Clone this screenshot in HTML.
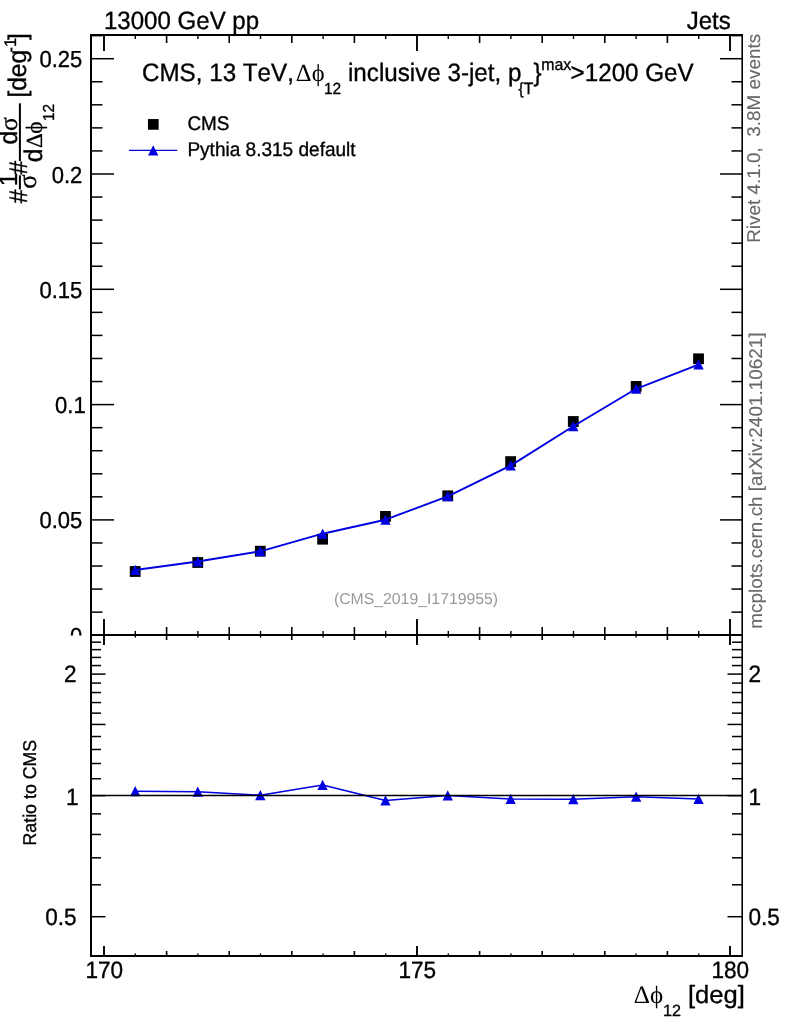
<!DOCTYPE html>
<html lang="en"><head><meta charset="utf-8"><title>CMS 13 TeV Δϕ12 inclusive 3-jet</title>
<style>html,body{margin:0;padding:0;background:#fff}body{width:786px;height:1024px;overflow:hidden}svg text{white-space:pre;font-kerning:none;font-variant-ligatures:none;text-rendering:geometricPrecision}</style></head>
<body>
<svg width="786" height="1024" viewBox="0 0 786 1024" style="display:block">
<rect x="0" y="0" width="786" height="1024" fill="#fff"/>
<g id="upper-data">
<rect x="129.80" y="566.10" width="10.80" height="10.80" fill="#000"/>
<rect x="192.37" y="557.10" width="10.80" height="10.80" fill="#000"/>
<rect x="254.89" y="545.80" width="10.80" height="10.80" fill="#000"/>
<rect x="317.21" y="533.80" width="10.80" height="10.80" fill="#000"/>
<rect x="380.08" y="511.00" width="10.80" height="10.80" fill="#000"/>
<rect x="442.35" y="490.40" width="10.80" height="10.80" fill="#000"/>
<rect x="505.22" y="456.20" width="10.80" height="10.80" fill="#000"/>
<rect x="567.89" y="416.10" width="10.80" height="10.80" fill="#000"/>
<rect x="630.76" y="381.00" width="10.80" height="10.80" fill="#000"/>
<rect x="693.13" y="353.40" width="10.80" height="10.80" fill="#000"/>
<polyline fill="none" stroke="#0000e0" stroke-width="1.9" stroke-linejoin="round" points="135.20,570.00 197.77,561.50 260.29,551.30 322.61,533.70 385.48,519.70 447.75,496.30 510.62,465.60 573.29,426.30 636.16,388.80 698.53,364.60"/>
<polygon points="130.05,575.00 140.35,575.00 135.20,564.70" fill="#0000e0"/>
<polygon points="192.62,566.50 202.92,566.50 197.77,556.20" fill="#0000e0"/>
<polygon points="255.14,556.30 265.44,556.30 260.29,546.00" fill="#0000e0"/>
<polygon points="317.46,538.70 327.76,538.70 322.61,528.40" fill="#0000e0"/>
<polygon points="380.33,524.70 390.63,524.70 385.48,514.40" fill="#0000e0"/>
<polygon points="442.60,501.30 452.90,501.30 447.75,491.00" fill="#0000e0"/>
<polygon points="505.47,470.60 515.77,470.60 510.62,460.30" fill="#0000e0"/>
<polygon points="568.14,431.30 578.44,431.30 573.29,421.00" fill="#0000e0"/>
<polygon points="631.01,393.80 641.31,393.80 636.16,383.50" fill="#0000e0"/>
<polygon points="693.38,369.60 703.68,369.60 698.53,359.30" fill="#0000e0"/>
</g>
<g id="lower-data">
<polyline fill="none" stroke="#0000e0" stroke-width="1.5" stroke-linejoin="round" points="135.20,791.20 197.77,791.70 260.29,795.20 322.61,785.10 385.48,800.50 447.75,795.50 510.62,799.00 573.29,799.30 636.16,796.80 698.53,799.10"/>
<polygon points="130.05,796.20 140.35,796.20 135.20,785.90" fill="#0000e0"/>
<polygon points="192.62,796.70 202.92,796.70 197.77,786.40" fill="#0000e0"/>
<polygon points="255.14,800.20 265.44,800.20 260.29,789.90" fill="#0000e0"/>
<polygon points="317.46,790.10 327.76,790.10 322.61,779.80" fill="#0000e0"/>
<polygon points="380.33,805.50 390.63,805.50 385.48,795.20" fill="#0000e0"/>
<polygon points="442.60,800.50 452.90,800.50 447.75,790.20" fill="#0000e0"/>
<polygon points="505.47,804.00 515.77,804.00 510.62,793.70" fill="#0000e0"/>
<polygon points="568.14,804.30 578.44,804.30 573.29,794.00" fill="#0000e0"/>
<polygon points="631.01,801.80 641.31,801.80 636.16,791.50" fill="#0000e0"/>
<polygon points="693.38,804.10 703.68,804.10 698.53,793.80" fill="#0000e0"/>
<line x1="91.0" y1="795.5" x2="742.0" y2="795.5" stroke="#000" stroke-width="1.3"/>
</g>
<g id="ticks" stroke="#000" fill="none">
<line x1="104.00" y1="35.00" x2="104.00" y2="51.00" stroke-width="1.9"/>
<line x1="104.00" y1="619.00" x2="104.00" y2="645.00" stroke-width="1.9"/>
<line x1="104.00" y1="946.00" x2="104.00" y2="956.00" stroke-width="1.9"/>
<line x1="135.30" y1="35.00" x2="135.30" y2="39.00" stroke-width="1.4"/>
<line x1="135.30" y1="631.00" x2="135.30" y2="637.50" stroke-width="1.4"/>
<line x1="135.30" y1="953.50" x2="135.30" y2="956.00" stroke-width="1.4"/>
<line x1="166.60" y1="35.00" x2="166.60" y2="43.00" stroke-width="1.6"/>
<line x1="166.60" y1="627.00" x2="166.60" y2="640.00" stroke-width="1.6"/>
<line x1="166.60" y1="951.00" x2="166.60" y2="956.00" stroke-width="1.6"/>
<line x1="197.90" y1="35.00" x2="197.90" y2="39.00" stroke-width="1.4"/>
<line x1="197.90" y1="631.00" x2="197.90" y2="637.50" stroke-width="1.4"/>
<line x1="197.90" y1="953.50" x2="197.90" y2="956.00" stroke-width="1.4"/>
<line x1="229.20" y1="35.00" x2="229.20" y2="43.00" stroke-width="1.6"/>
<line x1="229.20" y1="627.00" x2="229.20" y2="640.00" stroke-width="1.6"/>
<line x1="229.20" y1="951.00" x2="229.20" y2="956.00" stroke-width="1.6"/>
<line x1="260.50" y1="35.00" x2="260.50" y2="39.00" stroke-width="1.4"/>
<line x1="260.50" y1="631.00" x2="260.50" y2="637.50" stroke-width="1.4"/>
<line x1="260.50" y1="953.50" x2="260.50" y2="956.00" stroke-width="1.4"/>
<line x1="291.80" y1="35.00" x2="291.80" y2="43.00" stroke-width="1.6"/>
<line x1="291.80" y1="627.00" x2="291.80" y2="640.00" stroke-width="1.6"/>
<line x1="291.80" y1="951.00" x2="291.80" y2="956.00" stroke-width="1.6"/>
<line x1="323.10" y1="35.00" x2="323.10" y2="39.00" stroke-width="1.4"/>
<line x1="323.10" y1="631.00" x2="323.10" y2="637.50" stroke-width="1.4"/>
<line x1="323.10" y1="953.50" x2="323.10" y2="956.00" stroke-width="1.4"/>
<line x1="354.40" y1="35.00" x2="354.40" y2="43.00" stroke-width="1.6"/>
<line x1="354.40" y1="627.00" x2="354.40" y2="640.00" stroke-width="1.6"/>
<line x1="354.40" y1="951.00" x2="354.40" y2="956.00" stroke-width="1.6"/>
<line x1="385.70" y1="35.00" x2="385.70" y2="39.00" stroke-width="1.4"/>
<line x1="385.70" y1="631.00" x2="385.70" y2="637.50" stroke-width="1.4"/>
<line x1="385.70" y1="953.50" x2="385.70" y2="956.00" stroke-width="1.4"/>
<line x1="417.00" y1="35.00" x2="417.00" y2="51.00" stroke-width="1.9"/>
<line x1="417.00" y1="619.00" x2="417.00" y2="645.00" stroke-width="1.9"/>
<line x1="417.00" y1="946.00" x2="417.00" y2="956.00" stroke-width="1.9"/>
<line x1="448.30" y1="35.00" x2="448.30" y2="39.00" stroke-width="1.4"/>
<line x1="448.30" y1="631.00" x2="448.30" y2="637.50" stroke-width="1.4"/>
<line x1="448.30" y1="953.50" x2="448.30" y2="956.00" stroke-width="1.4"/>
<line x1="479.60" y1="35.00" x2="479.60" y2="43.00" stroke-width="1.6"/>
<line x1="479.60" y1="627.00" x2="479.60" y2="640.00" stroke-width="1.6"/>
<line x1="479.60" y1="951.00" x2="479.60" y2="956.00" stroke-width="1.6"/>
<line x1="510.90" y1="35.00" x2="510.90" y2="39.00" stroke-width="1.4"/>
<line x1="510.90" y1="631.00" x2="510.90" y2="637.50" stroke-width="1.4"/>
<line x1="510.90" y1="953.50" x2="510.90" y2="956.00" stroke-width="1.4"/>
<line x1="542.20" y1="35.00" x2="542.20" y2="43.00" stroke-width="1.6"/>
<line x1="542.20" y1="627.00" x2="542.20" y2="640.00" stroke-width="1.6"/>
<line x1="542.20" y1="951.00" x2="542.20" y2="956.00" stroke-width="1.6"/>
<line x1="573.50" y1="35.00" x2="573.50" y2="39.00" stroke-width="1.4"/>
<line x1="573.50" y1="631.00" x2="573.50" y2="637.50" stroke-width="1.4"/>
<line x1="573.50" y1="953.50" x2="573.50" y2="956.00" stroke-width="1.4"/>
<line x1="604.80" y1="35.00" x2="604.80" y2="43.00" stroke-width="1.6"/>
<line x1="604.80" y1="627.00" x2="604.80" y2="640.00" stroke-width="1.6"/>
<line x1="604.80" y1="951.00" x2="604.80" y2="956.00" stroke-width="1.6"/>
<line x1="636.10" y1="35.00" x2="636.10" y2="39.00" stroke-width="1.4"/>
<line x1="636.10" y1="631.00" x2="636.10" y2="637.50" stroke-width="1.4"/>
<line x1="636.10" y1="953.50" x2="636.10" y2="956.00" stroke-width="1.4"/>
<line x1="667.40" y1="35.00" x2="667.40" y2="43.00" stroke-width="1.6"/>
<line x1="667.40" y1="627.00" x2="667.40" y2="640.00" stroke-width="1.6"/>
<line x1="667.40" y1="951.00" x2="667.40" y2="956.00" stroke-width="1.6"/>
<line x1="698.70" y1="35.00" x2="698.70" y2="39.00" stroke-width="1.4"/>
<line x1="698.70" y1="631.00" x2="698.70" y2="637.50" stroke-width="1.4"/>
<line x1="698.70" y1="953.50" x2="698.70" y2="956.00" stroke-width="1.4"/>
<line x1="730.00" y1="35.00" x2="730.00" y2="51.00" stroke-width="1.9"/>
<line x1="730.00" y1="619.00" x2="730.00" y2="645.00" stroke-width="1.9"/>
<line x1="730.00" y1="946.00" x2="730.00" y2="956.00" stroke-width="1.9"/>
<line x1="91.00" y1="612.14" x2="102.50" y2="612.14" stroke-width="1.5"/>
<line x1="731.50" y1="612.14" x2="742.00" y2="612.14" stroke-width="1.5"/>
<line x1="91.00" y1="589.08" x2="102.50" y2="589.08" stroke-width="1.5"/>
<line x1="731.50" y1="589.08" x2="742.00" y2="589.08" stroke-width="1.5"/>
<line x1="91.00" y1="566.02" x2="102.50" y2="566.02" stroke-width="1.5"/>
<line x1="731.50" y1="566.02" x2="742.00" y2="566.02" stroke-width="1.5"/>
<line x1="91.00" y1="542.96" x2="102.50" y2="542.96" stroke-width="1.5"/>
<line x1="731.50" y1="542.96" x2="742.00" y2="542.96" stroke-width="1.5"/>
<line x1="91.00" y1="519.90" x2="114.00" y2="519.90" stroke-width="1.5"/>
<line x1="720.00" y1="519.90" x2="742.00" y2="519.90" stroke-width="1.5"/>
<line x1="91.00" y1="496.84" x2="102.50" y2="496.84" stroke-width="1.5"/>
<line x1="731.50" y1="496.84" x2="742.00" y2="496.84" stroke-width="1.5"/>
<line x1="91.00" y1="473.78" x2="102.50" y2="473.78" stroke-width="1.5"/>
<line x1="731.50" y1="473.78" x2="742.00" y2="473.78" stroke-width="1.5"/>
<line x1="91.00" y1="450.72" x2="102.50" y2="450.72" stroke-width="1.5"/>
<line x1="731.50" y1="450.72" x2="742.00" y2="450.72" stroke-width="1.5"/>
<line x1="91.00" y1="427.66" x2="102.50" y2="427.66" stroke-width="1.5"/>
<line x1="731.50" y1="427.66" x2="742.00" y2="427.66" stroke-width="1.5"/>
<line x1="91.00" y1="404.60" x2="114.00" y2="404.60" stroke-width="1.5"/>
<line x1="720.00" y1="404.60" x2="742.00" y2="404.60" stroke-width="1.5"/>
<line x1="91.00" y1="381.54" x2="102.50" y2="381.54" stroke-width="1.5"/>
<line x1="731.50" y1="381.54" x2="742.00" y2="381.54" stroke-width="1.5"/>
<line x1="91.00" y1="358.48" x2="102.50" y2="358.48" stroke-width="1.5"/>
<line x1="731.50" y1="358.48" x2="742.00" y2="358.48" stroke-width="1.5"/>
<line x1="91.00" y1="335.42" x2="102.50" y2="335.42" stroke-width="1.5"/>
<line x1="731.50" y1="335.42" x2="742.00" y2="335.42" stroke-width="1.5"/>
<line x1="91.00" y1="312.36" x2="102.50" y2="312.36" stroke-width="1.5"/>
<line x1="731.50" y1="312.36" x2="742.00" y2="312.36" stroke-width="1.5"/>
<line x1="91.00" y1="289.30" x2="114.00" y2="289.30" stroke-width="1.5"/>
<line x1="720.00" y1="289.30" x2="742.00" y2="289.30" stroke-width="1.5"/>
<line x1="91.00" y1="266.24" x2="102.50" y2="266.24" stroke-width="1.5"/>
<line x1="731.50" y1="266.24" x2="742.00" y2="266.24" stroke-width="1.5"/>
<line x1="91.00" y1="243.18" x2="102.50" y2="243.18" stroke-width="1.5"/>
<line x1="731.50" y1="243.18" x2="742.00" y2="243.18" stroke-width="1.5"/>
<line x1="91.00" y1="220.12" x2="102.50" y2="220.12" stroke-width="1.5"/>
<line x1="731.50" y1="220.12" x2="742.00" y2="220.12" stroke-width="1.5"/>
<line x1="91.00" y1="197.06" x2="102.50" y2="197.06" stroke-width="1.5"/>
<line x1="731.50" y1="197.06" x2="742.00" y2="197.06" stroke-width="1.5"/>
<line x1="91.00" y1="174.00" x2="114.00" y2="174.00" stroke-width="1.5"/>
<line x1="720.00" y1="174.00" x2="742.00" y2="174.00" stroke-width="1.5"/>
<line x1="91.00" y1="150.94" x2="102.50" y2="150.94" stroke-width="1.5"/>
<line x1="731.50" y1="150.94" x2="742.00" y2="150.94" stroke-width="1.5"/>
<line x1="91.00" y1="127.88" x2="102.50" y2="127.88" stroke-width="1.5"/>
<line x1="731.50" y1="127.88" x2="742.00" y2="127.88" stroke-width="1.5"/>
<line x1="91.00" y1="104.82" x2="102.50" y2="104.82" stroke-width="1.5"/>
<line x1="731.50" y1="104.82" x2="742.00" y2="104.82" stroke-width="1.5"/>
<line x1="91.00" y1="81.76" x2="102.50" y2="81.76" stroke-width="1.5"/>
<line x1="731.50" y1="81.76" x2="742.00" y2="81.76" stroke-width="1.5"/>
<line x1="91.00" y1="58.70" x2="114.00" y2="58.70" stroke-width="1.5"/>
<line x1="720.00" y1="58.70" x2="742.00" y2="58.70" stroke-width="1.5"/>
<line x1="91.00" y1="35.64" x2="102.50" y2="35.64" stroke-width="1.5"/>
<line x1="731.50" y1="35.64" x2="742.00" y2="35.64" stroke-width="1.5"/>
<line x1="91.00" y1="916.70" x2="105.50" y2="916.70" stroke-width="1.5"/>
<line x1="727.50" y1="916.70" x2="742.00" y2="916.70" stroke-width="1.5"/>
<line x1="91.00" y1="884.79" x2="101.00" y2="884.79" stroke-width="1.5"/>
<line x1="732.00" y1="884.79" x2="742.00" y2="884.79" stroke-width="1.5"/>
<line x1="91.00" y1="857.82" x2="101.00" y2="857.82" stroke-width="1.5"/>
<line x1="732.00" y1="857.82" x2="742.00" y2="857.82" stroke-width="1.5"/>
<line x1="91.00" y1="834.45" x2="101.00" y2="834.45" stroke-width="1.5"/>
<line x1="732.00" y1="834.45" x2="742.00" y2="834.45" stroke-width="1.5"/>
<line x1="91.00" y1="813.84" x2="101.00" y2="813.84" stroke-width="1.5"/>
<line x1="732.00" y1="813.84" x2="742.00" y2="813.84" stroke-width="1.5"/>
<line x1="91.00" y1="795.65" x2="105.50" y2="795.65" stroke-width="1.5"/>
<line x1="727.50" y1="795.65" x2="742.00" y2="795.65" stroke-width="1.5"/>
<line x1="91.00" y1="778.72" x2="101.00" y2="778.72" stroke-width="1.5"/>
<line x1="732.00" y1="778.72" x2="742.00" y2="778.72" stroke-width="1.5"/>
<line x1="91.00" y1="763.49" x2="101.00" y2="763.49" stroke-width="1.5"/>
<line x1="732.00" y1="763.49" x2="742.00" y2="763.49" stroke-width="1.5"/>
<line x1="91.00" y1="749.49" x2="101.00" y2="749.49" stroke-width="1.5"/>
<line x1="732.00" y1="749.49" x2="742.00" y2="749.49" stroke-width="1.5"/>
<line x1="91.00" y1="736.52" x2="101.00" y2="736.52" stroke-width="1.5"/>
<line x1="732.00" y1="736.52" x2="742.00" y2="736.52" stroke-width="1.5"/>
<line x1="91.00" y1="724.44" x2="105.50" y2="724.44" stroke-width="1.5"/>
<line x1="727.50" y1="724.44" x2="742.00" y2="724.44" stroke-width="1.5"/>
<line x1="91.00" y1="713.15" x2="101.00" y2="713.15" stroke-width="1.5"/>
<line x1="732.00" y1="713.15" x2="742.00" y2="713.15" stroke-width="1.5"/>
<line x1="91.00" y1="702.54" x2="101.00" y2="702.54" stroke-width="1.5"/>
<line x1="732.00" y1="702.54" x2="742.00" y2="702.54" stroke-width="1.5"/>
<line x1="91.00" y1="692.54" x2="101.00" y2="692.54" stroke-width="1.5"/>
<line x1="732.00" y1="692.54" x2="742.00" y2="692.54" stroke-width="1.5"/>
<line x1="91.00" y1="683.08" x2="101.00" y2="683.08" stroke-width="1.5"/>
<line x1="732.00" y1="683.08" x2="742.00" y2="683.08" stroke-width="1.5"/>
<line x1="91.00" y1="674.10" x2="105.50" y2="674.10" stroke-width="1.5"/>
<line x1="727.50" y1="674.10" x2="742.00" y2="674.10" stroke-width="1.5"/>
<line x1="91.00" y1="665.56" x2="101.00" y2="665.56" stroke-width="1.5"/>
<line x1="732.00" y1="665.56" x2="742.00" y2="665.56" stroke-width="1.5"/>
<line x1="91.00" y1="657.42" x2="101.00" y2="657.42" stroke-width="1.5"/>
<line x1="732.00" y1="657.42" x2="742.00" y2="657.42" stroke-width="1.5"/>
<line x1="91.00" y1="649.64" x2="101.00" y2="649.64" stroke-width="1.5"/>
<line x1="732.00" y1="649.64" x2="742.00" y2="649.64" stroke-width="1.5"/>
<line x1="91.00" y1="642.19" x2="101.00" y2="642.19" stroke-width="1.5"/>
<line x1="732.00" y1="642.19" x2="742.00" y2="642.19" stroke-width="1.5"/>
</g>
<g id="frames" stroke="#000" fill="none">
<line x1="91.0" y1="34.0" x2="91.0" y2="957.0" stroke-width="2"/>
<line x1="742.2" y1="34.0" x2="742.2" y2="957.0" stroke-width="1.6"/>
<line x1="90.0" y1="35.0" x2="743.0" y2="35.0" stroke-width="2"/>
<line x1="90.0" y1="635.0" x2="743.0" y2="635.0" stroke-width="2"/>
<line x1="90.0" y1="956.0" x2="743.0" y2="956.0" stroke-width="2"/>
</g>
<g id="text">
<text transform="translate(104,29.30) scale(1,1.04)" font-family='"Liberation Sans", sans-serif' font-size="24.05" text-anchor="start" fill="#000" stroke="#000" stroke-width="0.33" >13000 GeV pp</text>
<text transform="translate(730.8,29.30) scale(1,1.04)" font-family='"Liberation Sans", sans-serif' font-size="24.05" text-anchor="end" fill="#000" stroke="#000" stroke-width="0.33" >Jets</text>
<text transform="translate(142,81.20) scale(1,1.04)" font-family='"Liberation Sans", sans-serif' font-size="24.2" text-anchor="start" fill="#000" stroke="#000" stroke-width="0.33" >CMS, 13 TeV,</text>
<text transform="translate(295.8,81.20) scale(1,1)" font-family='"Liberation Serif", serif' font-size="24.5" text-anchor="start" fill="#000" >Δ</text>
<text transform="translate(311.7,81.20) scale(1,1)" font-family='"Liberation Serif", serif' font-size="24.5" text-anchor="start" fill="#000" >ϕ</text>
<text transform="translate(324,93.80) scale(1,1.04)" font-family='"Liberation Sans", sans-serif' font-size="15.5" text-anchor="start" fill="#000" stroke="#000" stroke-width="0.33" >12</text>
<text transform="translate(348,81.20) scale(1,1.04)" font-family='"Liberation Sans", sans-serif' font-size="24.2" text-anchor="start" fill="#000" stroke="#000" stroke-width="0.33" >inclusive 3-jet, p</text>
<text transform="translate(518.6,93.60) scale(1,1.04)" font-family='"Liberation Sans", sans-serif' font-size="15.7" text-anchor="start" fill="#000" stroke="#000" stroke-width="0.33" >{T</text>
<text transform="translate(533.4,81.20) scale(1,1.04)" font-family='"Liberation Sans", sans-serif' font-size="24.2" text-anchor="start" fill="#000" stroke="#000" stroke-width="0.33" >}</text>
<text transform="translate(541.2,70.00) scale(1,1.04)" font-family='"Liberation Sans", sans-serif' font-size="15.9" text-anchor="start" fill="#000" stroke="#000" stroke-width="0.33" >max</text>
<text transform="translate(570.6,81.20) scale(1,1.04)" font-family='"Liberation Sans", sans-serif' font-size="24.2" text-anchor="start" fill="#000" stroke="#000" stroke-width="0.33" >&gt;1200 GeV</text>
<rect x="147.95" y="119.05" width="10.70" height="10.70" fill="#000"/>
<line x1="129" y1="150.4" x2="177.2" y2="150.4" stroke="#0000e0" stroke-width="1.3"/>
<polygon points="148.05,155.50 158.35,155.50 153.20,145.20" fill="#0000e0"/>
<text transform="translate(187.4,129.80) scale(1,1.04)" font-family='"Liberation Sans", sans-serif' font-size="18.9" text-anchor="start" fill="#000" stroke="#000" stroke-width="0.33" >CMS</text>
<text transform="translate(187.4,155.50) scale(1,1.04)" font-family='"Liberation Sans", sans-serif' font-size="19.05" text-anchor="start" fill="#000" stroke="#000" stroke-width="0.33" >Pythia 8.315 default</text>
<text transform="translate(82.3,67.20) scale(0.975,1.025)" font-family='"Liberation Sans", sans-serif' font-size="22.6" text-anchor="end" fill="#000" stroke="#000" stroke-width="0.33" >0.25</text>
<text transform="translate(82.3,182.50) scale(0.975,1.025)" font-family='"Liberation Sans", sans-serif' font-size="22.6" text-anchor="end" fill="#000" stroke="#000" stroke-width="0.33" >0.2</text>
<text transform="translate(82.3,297.80) scale(0.975,1.025)" font-family='"Liberation Sans", sans-serif' font-size="22.6" text-anchor="end" fill="#000" stroke="#000" stroke-width="0.33" >0.15</text>
<text transform="translate(85.7,413.10) scale(0.975,1.025)" font-family='"Liberation Sans", sans-serif' font-size="22.6" text-anchor="end" fill="#000" stroke="#000" stroke-width="0.33" >0.1</text>
<text transform="translate(82.3,528.40) scale(0.975,1.025)" font-family='"Liberation Sans", sans-serif' font-size="22.6" text-anchor="end" fill="#000" stroke="#000" stroke-width="0.33" >0.05</text>
<clipPath id="c0"><rect x="0" y="0" width="786" height="635.5"/></clipPath>
<g clip-path="url(#c0)">
<text transform="translate(82.3,643.70) scale(0.975,1.025)" font-family='"Liberation Sans", sans-serif' font-size="22.6" text-anchor="end" fill="#000" stroke="#000" stroke-width="0.33" >0</text>
</g>
<text transform="translate(76.7,682.25) scale(1,1.05)" font-family='"Liberation Sans", sans-serif' font-size="22.6" text-anchor="end" fill="#000" stroke="#000" stroke-width="0.33" >2</text>
<text transform="translate(748.4,682.25) scale(1,1.05)" font-family='"Liberation Sans", sans-serif' font-size="22.6" text-anchor="start" fill="#000" stroke="#000" stroke-width="0.33" >2</text>
<text transform="translate(78.6,805.15) scale(1,1.05)" font-family='"Liberation Sans", sans-serif' font-size="22.6" text-anchor="end" fill="#000" stroke="#000" stroke-width="0.33" >1</text>
<text transform="translate(748.4,805.15) scale(1,1.05)" font-family='"Liberation Sans", sans-serif' font-size="22.6" text-anchor="start" fill="#000" stroke="#000" stroke-width="0.33" >1</text>
<text transform="translate(76.7,924.85) scale(1,1.05)" font-family='"Liberation Sans", sans-serif' font-size="22.6" text-anchor="end" fill="#000" stroke="#000" stroke-width="0.33" >0.5</text>
<text transform="translate(748.4,924.85) scale(1,1.05)" font-family='"Liberation Sans", sans-serif' font-size="22.6" text-anchor="start" fill="#000" stroke="#000" stroke-width="0.33" >0.5</text>
<text transform="translate(104.3,978.00) scale(1,1.05)" font-family='"Liberation Sans", sans-serif' font-size="22.6" text-anchor="middle" fill="#000" stroke="#000" stroke-width="0.33" >170</text>
<text transform="translate(417.3,978.00) scale(1,1.05)" font-family='"Liberation Sans", sans-serif' font-size="22.6" text-anchor="middle" fill="#000" stroke="#000" stroke-width="0.33" >175</text>
<text transform="translate(730.3,978.00) scale(1,1.05)" font-family='"Liberation Sans", sans-serif' font-size="22.6" text-anchor="middle" fill="#000" stroke="#000" stroke-width="0.33" >180</text>
<text transform="translate(416,604.20) scale(1,1.0)" font-family='"Liberation Sans", sans-serif' font-size="15.8" text-anchor="middle" fill="#999" >(CMS_2019_I1719955)</text>
<text transform="translate(759.8,33.9) rotate(-90) scale(1,0.98)" font-family='"Liberation Sans", sans-serif' font-size="18.9" text-anchor="end" fill="#686868" stroke="#686868" stroke-width="0.12">Rivet 4.1.0,  3.8M events</text>
<text transform="translate(761.7,628.7) rotate(-90) scale(1,0.98)" font-family='"Liberation Sans", sans-serif' font-size="18.9" text-anchor="start" fill="#686868" stroke="#686868" stroke-width="0.12">mcplots.cern.ch [arXiv:2401.10621]</text>
<text transform="translate(36.2,845.5) rotate(-90) scale(1,1.04)" font-family='"Liberation Sans", sans-serif' font-size="17.8" text-anchor="start" fill="#000" stroke="#000" stroke-width="0.33">Ratio to CMS</text>
<text transform="translate(633.7,1003.00) scale(1,1)" font-family='"Liberation Serif", serif' font-size="25.2" text-anchor="start" fill="#000" >Δ</text>
<text transform="translate(650,1003.00) scale(1,1)" font-family='"Liberation Serif", serif' font-size="25" text-anchor="start" fill="#000" >ϕ</text>
<text transform="translate(663.0,1016.40) scale(1,1.0)" font-family='"Liberation Sans", sans-serif' font-size="16.2" text-anchor="start" fill="#000" stroke="#000" stroke-width="0.33" >12</text>
<text transform="translate(744.9,1003.00) scale(1,0.97)" font-family='"Liberation Sans", sans-serif' font-size="25.6" text-anchor="end" fill="#000" stroke="#000" stroke-width="0.33" >[deg]</text>
<g transform="translate(27,204) rotate(-90)">
<text transform="translate(0.8,0) scale(1,1.04)" font-family='"Liberation Sans", sans-serif' font-size="24.5" text-anchor="start" stroke="#000" stroke-width="0.33">#</text>
<text transform="translate(24.6,-10.5) scale(1,1.04)" font-family='"Liberation Sans", sans-serif' font-size="24.5" text-anchor="middle" stroke="#000" stroke-width="0.33">1</text>
<line x1="14.6" y1="-7.1" x2="28.7" y2="-7.1" stroke="#000" stroke-width="2"/>
<text transform="translate(22.3,9) scale(1,1)" font-family='"Liberation Serif", serif' font-size="26.5" text-anchor="middle" stroke="#000" stroke-width="0.25">σ</text>
<text transform="translate(29.5,0) scale(1,1.04)" font-family='"Liberation Sans", sans-serif' font-size="24.5" text-anchor="start" stroke="#000" stroke-width="0.33">#</text>
<line x1="43" y1="-7.1" x2="100.7" y2="-7.1" stroke="#000" stroke-width="2"/>
<text transform="translate(59.5,-10.5) scale(1,1.04)" font-family='"Liberation Sans", sans-serif' font-size="24.5" text-anchor="start" stroke="#000" stroke-width="0.33">d</text>
<text transform="translate(73,-10.5) scale(1,1)" font-family='"Liberation Serif", serif' font-size="25.5" text-anchor="start" stroke="#000" stroke-width="0.25">σ</text>
<text transform="translate(41.8,14.5) scale(1,1.04)" font-family='"Liberation Sans", sans-serif' font-size="24.5" text-anchor="start" stroke="#000" stroke-width="0.33">d</text>
<text transform="translate(56,14.5) scale(1,1)" font-family='"Liberation Serif", serif' font-size="23" text-anchor="start" stroke="#000" stroke-width="0.25">Δ</text>
<text transform="translate(70.2,14.5) scale(1,1)" font-family='"Liberation Serif", serif' font-size="23.5" text-anchor="start" stroke="#000" stroke-width="0.25">ϕ</text>
<text transform="translate(83,26.5) scale(1,1.04)" font-family='"Liberation Sans", sans-serif' font-size="15.3" text-anchor="start" stroke="#000" stroke-width="0.33">12</text>
<text transform="translate(106.4,-1.1) scale(1,1.04)" font-family='"Liberation Sans", sans-serif' font-size="24.5" text-anchor="start" stroke="#000" stroke-width="0.33">[deg</text>
<text transform="translate(151.6,-11.2) scale(1,1.04)" font-family='"Liberation Sans", sans-serif' font-size="16.3" text-anchor="start" stroke="#000" stroke-width="0.33">-1</text>
<text transform="translate(164,-1.1) scale(1,1.04)" font-family='"Liberation Sans", sans-serif' font-size="24.5" text-anchor="start" stroke="#000" stroke-width="0.33">]</text>
</g>
</g>
</svg>
</body></html>
